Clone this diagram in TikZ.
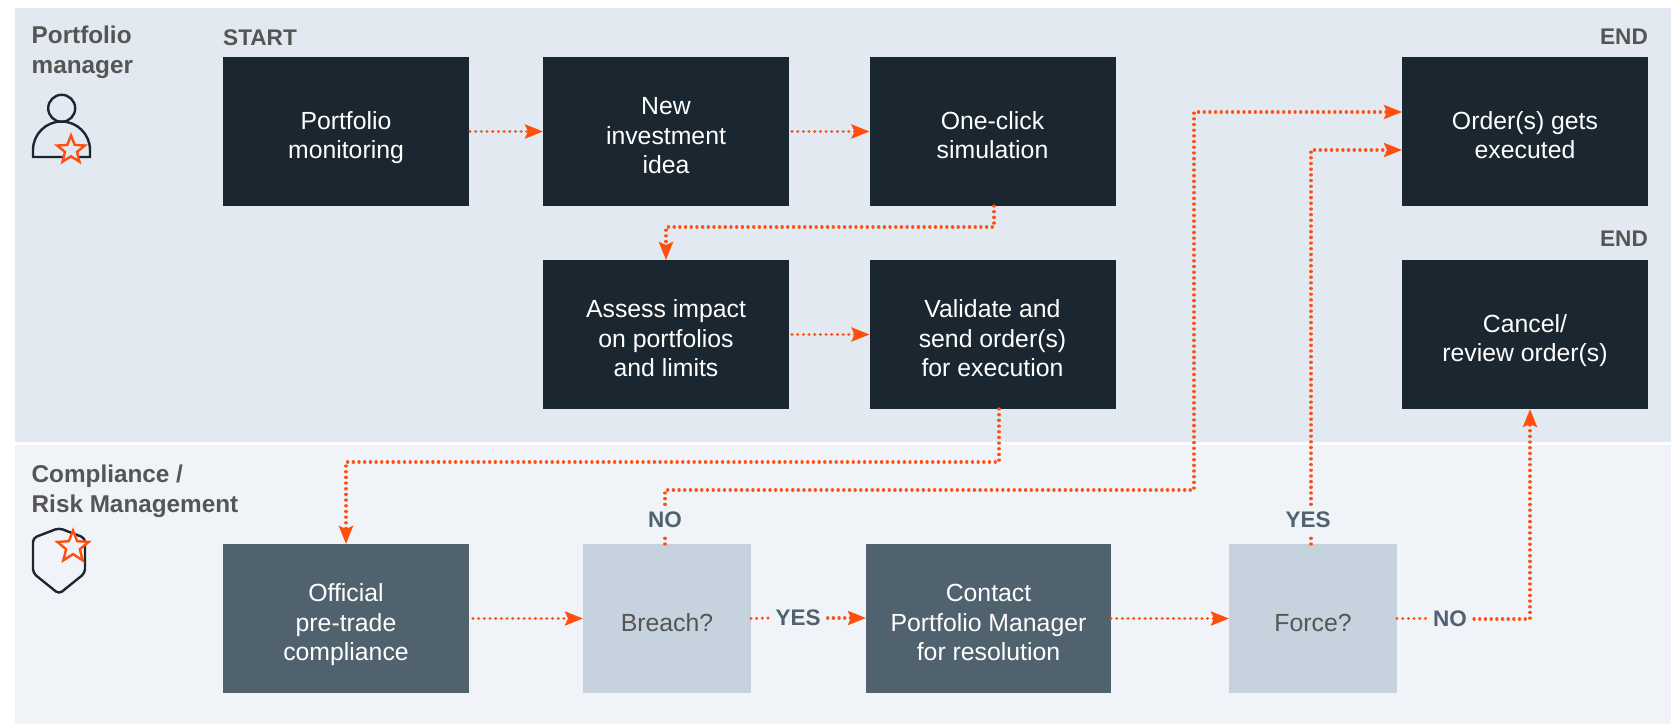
\documentclass[tikz,border=0pt]{standalone}
\usepackage{fontspec}
\setmainfont{Liberation Sans}
\usetikzlibrary{arrows.meta,shapes.geometric,calc}
\definecolor{dark}{HTML}{1A2730}
\definecolor{slate}{HTML}{51626F}
\definecolor{pale}{HTML}{C6D3DF}
\definecolor{bandA}{HTML}{E2E9F0}
\definecolor{bandB}{HTML}{F0F4F9}
\definecolor{flowc}{HTML}{FF4F0F}
\definecolor{greyt}{HTML}{555555}
\newcommand{\boxlines}[1]{\raisebox{-13pt}[0pt][0pt]{\begin{tabular}[c]{@{}c@{}}#1\end{tabular}}}
\tikzset{
  x=1pt,y=-1pt,
  base/.style={anchor=north west,inner sep=0pt,outer sep=0pt,
    font=\fontsize{24.8}{29.4}\selectfont},
  darkbox/.style={base,fill=dark,text=white,minimum width=246pt,minimum height=149pt},
  slatebox/.style={base,fill=slate,text=white,minimum width=246pt,minimum height=149pt},
  palebox/.style={base,fill=pale,text=greyt,minimum width=168pt,minimum height=149pt},
  lane/.style={anchor=north west,inner sep=0pt,align=left,text=greyt,
    font=\fontsize{24.3}{30}\selectfont\bfseries},
  tag/.style={inner sep=0pt,text=greyt,font=\fontsize{22.6}{25}\selectfont\bfseries},
  choice/.style={inner sep=7pt,text=slate,font=\fontsize{22.5}{25}\selectfont\bfseries},
  flow/.style={draw=flowc,line width=3.3pt,line cap=round,dash pattern=on 0.01pt off 5.67pt},
  tipped/.style={flow,-{Stealth[length=18pt,width=14pt,inset=3pt]}},
  icon/.style={draw=dark,line width=2.4pt},
  badge/.style={star,star points=5,star point ratio=2.3,draw=flowc,line width=2.4pt,inner sep=0pt},
}
\begin{document}
\begin{tikzpicture}
\useasboundingbox (0,0) rectangle (1677,724);
\fill[white] (0,0) rectangle (1677,724);
\fill[bandA] (15,8) rectangle (1671,442);
\fill[bandB] (15,445) rectangle (1671,723.5);

\node[lane] (lanea) at (31.5,26) {Portfolio\\manager};
\node[lane] (laneb) at (31.5,465) {Compliance /\\Risk Management};
\node[tag,anchor=west] (start) at (223,38) {START};
\node[tag,anchor=east] (enda) at (1648,37) {END};
\node[tag,anchor=east] (endb) at (1648,239) {END};

\draw[icon] (61.7,108.3) circle (13.5);
\draw[icon] (33,157) -- (33,150) arc[start angle=180,end angle=360,radius=28.5] -- (90,157) -- cycle;
\node[badge,fill=bandA,minimum size=29pt] (stara) at (71,150) {};
\draw[icon,rounded corners=4pt] (59,528) -- (85,538) -- (85,573) -- (59,594) -- (33,573) -- (33,538) -- cycle;
\node[badge,fill=bandB,minimum size=33pt] (starb) at (73,547) {};

\node[darkbox] (monitor) at (223,57) {\boxlines{Portfolio\\monitoring}};
\node[darkbox] (idea) at (543,57) {\boxlines{New\\investment\\idea}};
\node[darkbox] (sim) at (869.5,57) {\boxlines{One-click\\simulation}};
\node[darkbox] (assess) at (543,260) {\boxlines{Assess impact\\on portfolios\\and limits}};
\node[darkbox] (validate) at (869.5,260) {\boxlines{Validate and\\send order(s)\\for execution}};
\node[darkbox] (exec) at (1402,57) {\boxlines{Order(s) gets\\executed}};
\node[darkbox] (cancel) at (1402,260) {\boxlines{Cancel/\\review order(s)}};
\node[slatebox] (official) at (223,544) {\boxlines{Official\\pre-trade\\compliance}};
\node[palebox] (breach) at (583,544) {\boxlines{Breach?}};
\node[slatebox,minimum width=245pt] (contact) at (866,544) {\boxlines{Contact\\Portfolio Manager\\for resolution}};
\node[palebox] (force) at (1229,544) {\boxlines{Force?}};

\node[choice] (nob) at (665,519.5) {NO};
\node[choice] (yesb) at (798,618) {YES};
\node[choice] (yesf) at (1308,519.5) {YES};
\node[choice] (nof) at (1450,619) {NO};

\coordinate (c1) at (994,227);
\coordinate (c2) at (666,227);
\coordinate (c3) at (999,462);
\coordinate (c4) at (346,462);
\coordinate (c5) at (665,490);
\coordinate (c6) at (1194,490);
\coordinate (c7) at (1194,112);
\coordinate (c8) at (1311,150);
\coordinate (c9) at (1530,619);

\draw[tipped] ([xshift=1pt]monitor.east) -- (idea.west);
\draw[tipped] ([xshift=3pt]idea.east) -- (sim.west);
\draw[tipped] (c1 |- sim.south) -- (c1) -- (c2) -- (c2 |- assess.north);
\draw[tipped] ([xshift=3pt]assess.east) -- (validate.west);
\draw[tipped] (c3 |- validate.south) -- (c3) -- (c4) -- (c4 |- official.north);
\draw[tipped] ([xshift=4pt]official.east) -- (breach.west);
\draw[flow] (nob |- breach.north) -- (nob.south);
\draw[tipped] (nob.north) -- (c5) -- (c6) -- (c7) -- (c7 -| exec.west);
\draw[flow] (breach.east) -- (yesb.west);
\draw[tipped] (yesb.east) -- (yesb -| contact.west);
\draw[tipped] (contact.east) -- (force.west);
\draw[flow] (c8 |- force.north) -- (c8 |- yesf.south);
\draw[tipped] (c8 |- yesf.north) -- (c8) -- (c8 -| exec.west);
\draw[flow] (force.east) -- (force.east -| nof.west);
\draw[tipped] (nof.east) -- (c9) -- (c9 |- cancel.south);
\end{tikzpicture}
\end{document}
